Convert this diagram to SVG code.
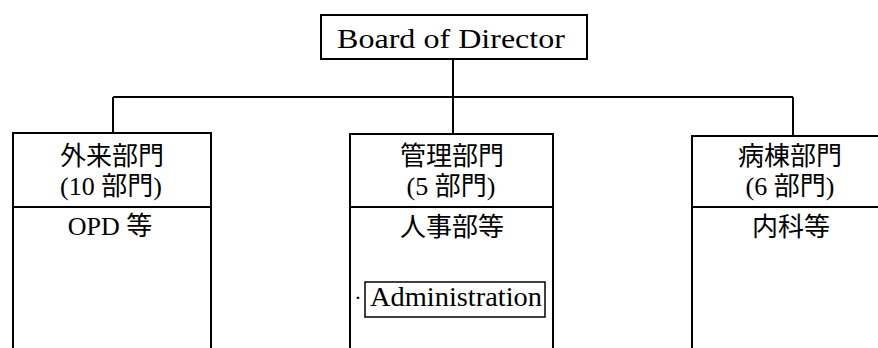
<svg xmlns="http://www.w3.org/2000/svg" width="878" height="348" viewBox="0 0 878 348">
<style>
.box{fill:#fff;stroke:#000;stroke-width:2}
.ln{stroke:#000;stroke-width:2;fill:none}
.t{font-family:"Liberation Serif","Noto Sans CJK JP",serif;font-size:27px;fill:#000;text-anchor:middle}
.j{font-family:"Liberation Serif","Noto Sans CJK JP",serif;font-size:26px;fill:#000;text-anchor:middle}
</style>
<g id="connectors">
<path class="ln" d="M453 59V134M113 97H793M113 97V133M793 97V136"/>
</g>
<g id="board">
<rect class="box" x="321" y="15" width="266" height="44"/>
<text class="t" x="451" y="48" textLength="228" lengthAdjust="spacingAndGlyphs">Board of Director</text>
</g>
<g id="opd">
<rect class="box" x="13" y="133" width="198" height="230"/>
<line class="ln" x1="13" y1="207" x2="211" y2="207"/>
<text class="j" x="112" y="165">外来部門</text>
<text class="j" x="111" y="195">(10 部門)</text>
<text class="j" x="110" y="235">OPD 等</text>
</g>
<g id="admin">
<rect class="box" x="350" y="134" width="203" height="230"/>
<line class="ln" x1="350" y1="207" x2="553" y2="207"/>
<text class="j" x="452" y="165">管理部門</text>
<text class="j" x="451" y="195">(5 部門)</text>
<text class="j" x="452" y="236">人事部等</text>
<text class="t" x="358" y="305" style="font-size:22px">·</text>
<rect x="365" y="282" width="180" height="35" fill="none" stroke="#000" stroke-width="1.5"/>
<text class="t" x="456" y="306" textLength="172" lengthAdjust="spacingAndGlyphs">Administration</text>
</g>
<g id="ward">
<rect class="box" x="692" y="136" width="200" height="230"/>
<line class="ln" x1="692" y1="207" x2="892" y2="207"/>
<text class="j" x="790" y="165">病棟部門</text>
<text class="j" x="790" y="195">(6 部門)</text>
<text class="j" x="791" y="236">内科等</text>
</g>
</svg>
